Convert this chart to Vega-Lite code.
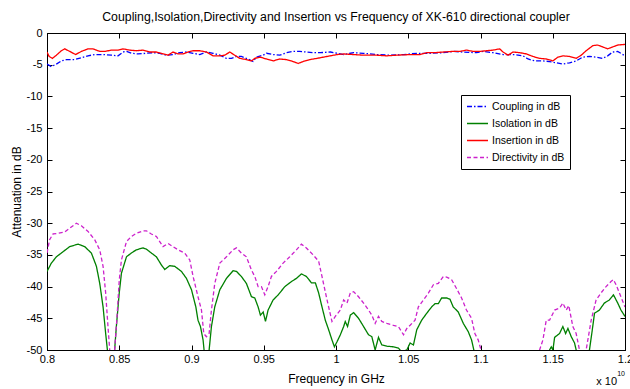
{
  "$schema": "https://vega.github.io/schema/vega-lite/v6.json",
  "autosize": "none",
  "width": 578,
  "height": 317,
  "padding": {"left": 47, "top": 33, "right": 5, "bottom": 39},
  "background": "white",
  "config": {
    "font": "Liberation Sans",
    "view": {"stroke": "black", "strokeWidth": 1},
    "axis": {"grid": false, "domainColor": "black", "tickColor": "black", "labelColor": "black", "titleColor": "black", "labelFont": "Liberation Sans", "titleFont": "Liberation Sans", "labelFontSize": 11, "titleFontSize": 12, "titleFontWeight": "normal", "tickSize": -5},
    "legend": {"orient": "none", "legendX": 414, "legendY": 62, "strokeColor": "black", "fillColor": "white", "padding": 5, "symbolType": "stroke", "symbolSize": 440, "symbolStrokeWidth": 1.5, "labelFontSize": 10.5, "labelFont": "Liberation Sans", "labelColor": "black", "rowPadding": 4, "labelOffset": 3, "clipHeight": 13}
  },
  "title": {"text": "Coupling,Isolation,Directivity and Insertion vs Frequency of XK-610 directional coupler", "fontSize": 12.3, "fontWeight": "normal", "font": "Liberation Sans", "color": "black", "offset": 4, "anchor": "middle"},
  "data": {"values": [
    {"s":"Coupling in dB","f":0.8,"v":-4.9},{"s":"Coupling in dB","f":0.803,"v":-5.3},{"s":"Coupling in dB","f":0.8065,"v":-4.9},{"s":"Coupling in dB","f":0.8099,"v":-4.4},{"s":"Coupling in dB","f":0.8134,"v":-4.2},{"s":"Coupling in dB","f":0.8192,"v":-4.2},{"s":"Coupling in dB","f":0.8238,"v":-3.9},{"s":"Coupling in dB","f":0.8284,"v":-3.6},{"s":"Coupling in dB","f":0.833,"v":-3.4},{"s":"Coupling in dB","f":0.8388,"v":-3.4},{"s":"Coupling in dB","f":0.8446,"v":-3.5},{"s":"Coupling in dB","f":0.8492,"v":-3.6},{"s":"Coupling in dB","f":0.8526,"v":-3.0},{"s":"Coupling in dB","f":0.855,"v":-2.9},{"s":"Coupling in dB","f":0.8584,"v":-3.2},{"s":"Coupling in dB","f":0.863,"v":-3.3},{"s":"Coupling in dB","f":0.8688,"v":-3.2},{"s":"Coupling in dB","f":0.8734,"v":-3.1},{"s":"Coupling in dB","f":0.878,"v":-3.2},{"s":"Coupling in dB","f":0.8826,"v":-3.5},{"s":"Coupling in dB","f":0.8872,"v":-3.4},{"s":"Coupling in dB","f":0.8919,"v":-3.1},{"s":"Coupling in dB","f":0.8965,"v":-3.0},{"s":"Coupling in dB","f":0.9011,"v":-3.2},{"s":"Coupling in dB","f":0.9057,"v":-3.4},{"s":"Coupling in dB","f":0.9103,"v":-3.0},{"s":"Coupling in dB","f":0.9149,"v":-3.2},{"s":"Coupling in dB","f":0.9196,"v":-3.5},{"s":"Coupling in dB","f":0.9242,"v":-4.0},{"s":"Coupling in dB","f":0.9276,"v":-4.0},{"s":"Coupling in dB","f":0.9311,"v":-3.7},{"s":"Coupling in dB","f":0.9345,"v":-3.7},{"s":"Coupling in dB","f":0.9391,"v":-4.1},{"s":"Coupling in dB","f":0.9426,"v":-4.5},{"s":"Coupling in dB","f":0.9449,"v":-3.8},{"s":"Coupling in dB","f":0.9496,"v":-3.5},{"s":"Coupling in dB","f":0.9519,"v":-3.2},{"s":"Coupling in dB","f":0.9565,"v":-3.4},{"s":"Coupling in dB","f":0.9611,"v":-3.5},{"s":"Coupling in dB","f":0.9657,"v":-3.1},{"s":"Coupling in dB","f":0.9703,"v":-2.9},{"s":"Coupling in dB","f":0.9749,"v":-2.9},{"s":"Coupling in dB","f":0.9795,"v":-3.0},{"s":"Coupling in dB","f":0.9842,"v":-3.1},{"s":"Coupling in dB","f":0.9892,"v":-3.1},{"s":"Coupling in dB","f":0.9961,"v":-3.0},{"s":"Coupling in dB","f":1.0007,"v":-3.2},{"s":"Coupling in dB","f":1.0053,"v":-3.4},{"s":"Coupling in dB","f":1.0122,"v":-3.1},{"s":"Coupling in dB","f":1.0191,"v":-3.2},{"s":"Coupling in dB","f":1.0283,"v":-3.4},{"s":"Coupling in dB","f":1.0375,"v":-3.5},{"s":"Coupling in dB","f":1.0467,"v":-3.4},{"s":"Coupling in dB","f":1.0559,"v":-3.2},{"s":"Coupling in dB","f":1.0651,"v":-3.2},{"s":"Coupling in dB","f":1.0743,"v":-3.1},{"s":"Coupling in dB","f":1.0811,"v":-2.9},{"s":"Coupling in dB","f":1.0878,"v":-3.0},{"s":"Coupling in dB","f":1.0972,"v":-3.1},{"s":"Coupling in dB","f":1.1018,"v":-2.9},{"s":"Coupling in dB","f":1.1087,"v":-3.1},{"s":"Coupling in dB","f":1.1156,"v":-3.4},{"s":"Coupling in dB","f":1.1225,"v":-3.4},{"s":"Coupling in dB","f":1.1294,"v":-3.6},{"s":"Coupling in dB","f":1.1329,"v":-4.1},{"s":"Coupling in dB","f":1.1375,"v":-4.4},{"s":"Coupling in dB","f":1.1432,"v":-4.4},{"s":"Coupling in dB","f":1.1478,"v":-4.5},{"s":"Coupling in dB","f":1.1524,"v":-4.7},{"s":"Coupling in dB","f":1.157,"v":-4.9},{"s":"Coupling in dB","f":1.1616,"v":-4.7},{"s":"Coupling in dB","f":1.1662,"v":-4.4},{"s":"Coupling in dB","f":1.1708,"v":-3.8},{"s":"Coupling in dB","f":1.1754,"v":-3.7},{"s":"Coupling in dB","f":1.18,"v":-3.8},{"s":"Coupling in dB","f":1.1846,"v":-4.0},{"s":"Coupling in dB","f":1.188,"v":-3.6},{"s":"Coupling in dB","f":1.1915,"v":-3.0},{"s":"Coupling in dB","f":1.1949,"v":-2.9},{"s":"Coupling in dB","f":1.2,"v":-3.6},

    {"s":"Isolation  in dB","f":0.8,"v":-37.6},{"s":"Isolation  in dB","f":0.803,"v":-36.3},{"s":"Isolation  in dB","f":0.8065,"v":-35.3},{"s":"Isolation  in dB","f":0.8111,"v":-34.5},{"s":"Isolation  in dB","f":0.8157,"v":-33.7},{"s":"Isolation  in dB","f":0.8215,"v":-33.3},{"s":"Isolation  in dB","f":0.8261,"v":-33.7},{"s":"Isolation  in dB","f":0.8307,"v":-34.7},{"s":"Isolation  in dB","f":0.8342,"v":-36.8},{"s":"Isolation  in dB","f":0.8365,"v":-39.5},{"s":"Isolation  in dB","f":0.8388,"v":-43.2},{"s":"Isolation  in dB","f":0.8406,"v":-47.4},{"s":"Isolation  in dB","f":0.8418,"v":-50},{"s":"Isolation  in dB","f":0.8445,"v":-58},{"s":"Isolation  in dB","f":0.8468,"v":-50},{"s":"Isolation  in dB","f":0.848,"v":-46.3},{"s":"Isolation  in dB","f":0.85,"v":-41},{"s":"Isolation  in dB","f":0.8515,"v":-37.9},{"s":"Isolation  in dB","f":0.855,"v":-35.3},{"s":"Isolation  in dB","f":0.8584,"v":-34.7},{"s":"Isolation  in dB","f":0.8618,"v":-34.2},{"s":"Isolation  in dB","f":0.8665,"v":-33.9},{"s":"Isolation  in dB","f":0.8688,"v":-34.1},{"s":"Isolation  in dB","f":0.8722,"v":-34.7},{"s":"Isolation  in dB","f":0.8757,"v":-35.3},{"s":"Isolation  in dB","f":0.8792,"v":-36.6},{"s":"Isolation  in dB","f":0.8815,"v":-37.3},{"s":"Isolation  in dB","f":0.8849,"v":-36.7},{"s":"Isolation  in dB","f":0.8884,"v":-36.8},{"s":"Isolation  in dB","f":0.893,"v":-37.6},{"s":"Isolation  in dB","f":0.8965,"v":-38.7},{"s":"Isolation  in dB","f":0.9,"v":-40.5},{"s":"Isolation  in dB","f":0.903,"v":-43.2},{"s":"Isolation  in dB","f":0.9045,"v":-45.3},{"s":"Isolation  in dB","f":0.9062,"v":-46.3},{"s":"Isolation  in dB","f":0.908,"v":-48.4},{"s":"Isolation  in dB","f":0.9087,"v":-50},{"s":"Isolation  in dB","f":0.9105,"v":-55},{"s":"Isolation  in dB","f":0.9122,"v":-50},{"s":"Isolation  in dB","f":0.9138,"v":-46.3},{"s":"Isolation  in dB","f":0.9161,"v":-43.2},{"s":"Isolation  in dB","f":0.9196,"v":-40.5},{"s":"Isolation  in dB","f":0.9242,"v":-38.7},{"s":"Isolation  in dB","f":0.9288,"v":-37.5},{"s":"Isolation  in dB","f":0.9311,"v":-37.6},{"s":"Isolation  in dB","f":0.9345,"v":-38.4},{"s":"Isolation  in dB","f":0.938,"v":-39.5},{"s":"Isolation  in dB","f":0.9415,"v":-41.6},{"s":"Isolation  in dB","f":0.9438,"v":-41.8},{"s":"Isolation  in dB","f":0.9461,"v":-43.2},{"s":"Isolation  in dB","f":0.9477,"v":-44.5},{"s":"Isolation  in dB","f":0.9496,"v":-44},{"s":"Isolation  in dB","f":0.9512,"v":-45.5},{"s":"Isolation  in dB","f":0.953,"v":-43.7},{"s":"Isolation  in dB","f":0.9565,"v":-42.1},{"s":"Isolation  in dB","f":0.96,"v":-41.3},{"s":"Isolation  in dB","f":0.9646,"v":-40},{"s":"Isolation  in dB","f":0.9692,"v":-39.2},{"s":"Isolation  in dB","f":0.9726,"v":-38.7},{"s":"Isolation  in dB","f":0.9761,"v":-38},{"s":"Isolation  in dB","f":0.9795,"v":-38.4},{"s":"Isolation  in dB","f":0.983,"v":-39.4},{"s":"Isolation  in dB","f":0.9857,"v":-39.4},{"s":"Isolation  in dB","f":0.988,"v":-41},{"s":"Isolation  in dB","f":0.9903,"v":-43.2},{"s":"Isolation  in dB","f":0.9926,"v":-45.3},{"s":"Isolation  in dB","f":0.9949,"v":-46.8},{"s":"Isolation  in dB","f":0.9972,"v":-48.4},{"s":"Isolation  in dB","f":0.9989,"v":-49.5},{"s":"Isolation  in dB","f":1.0007,"v":-48.7},{"s":"Isolation  in dB","f":1.003,"v":-47.6},{"s":"Isolation  in dB","f":1.0053,"v":-46.3},{"s":"Isolation  in dB","f":1.0064,"v":-45.5},{"s":"Isolation  in dB","f":1.008,"v":-46.3},{"s":"Isolation  in dB","f":1.0099,"v":-44.5},{"s":"Isolation  in dB","f":1.0122,"v":-44.1},{"s":"Isolation  in dB","f":1.0156,"v":-45},{"s":"Isolation  in dB","f":1.0191,"v":-46.3},{"s":"Isolation  in dB","f":1.0225,"v":-47.6},{"s":"Isolation  in dB","f":1.0248,"v":-47.9},{"s":"Isolation  in dB","f":1.0271,"v":-50},{"s":"Isolation  in dB","f":1.0294,"v":-48},{"s":"Isolation  in dB","f":1.0317,"v":-49.2},{"s":"Isolation  in dB","f":1.0352,"v":-49.4},{"s":"Isolation  in dB","f":1.0398,"v":-49.5},{"s":"Isolation  in dB","f":1.0432,"v":-49.7},{"s":"Isolation  in dB","f":1.0455,"v":-50.3},{"s":"Isolation  in dB","f":1.049,"v":-50},{"s":"Isolation  in dB","f":1.0513,"v":-48.9},{"s":"Isolation  in dB","f":1.0536,"v":-49.2},{"s":"Isolation  in dB","f":1.0559,"v":-46.8},{"s":"Isolation  in dB","f":1.0593,"v":-45.3},{"s":"Isolation  in dB","f":1.0628,"v":-44.2},{"s":"Isolation  in dB","f":1.0662,"v":-43.2},{"s":"Isolation  in dB","f":1.0685,"v":-42.7},{"s":"Isolation  in dB","f":1.0708,"v":-42.7},{"s":"Isolation  in dB","f":1.0731,"v":-41.8},{"s":"Isolation  in dB","f":1.0766,"v":-41.8},{"s":"Isolation  in dB","f":1.0789,"v":-42},{"s":"Isolation  in dB","f":1.0811,"v":-43.2},{"s":"Isolation  in dB","f":1.0846,"v":-44},{"s":"Isolation  in dB","f":1.0881,"v":-45.8},{"s":"Isolation  in dB","f":1.0915,"v":-47.1},{"s":"Isolation  in dB","f":1.0938,"v":-48.4},{"s":"Isolation  in dB","f":1.0954,"v":-50},{"s":"Isolation  in dB","f":1.1,"v":-56},{"s":"Isolation  in dB","f":1.12,"v":-60},{"s":"Isolation  in dB","f":1.14,"v":-56},{"s":"Isolation  in dB","f":1.1478,"v":-50},{"s":"Isolation  in dB","f":1.149,"v":-49.5},{"s":"Isolation  in dB","f":1.1501,"v":-50},{"s":"Isolation  in dB","f":1.1513,"v":-48},{"s":"Isolation  in dB","f":1.1547,"v":-47.4},{"s":"Isolation  in dB","f":1.157,"v":-46.3},{"s":"Isolation  in dB","f":1.1589,"v":-47.4},{"s":"Isolation  in dB","f":1.1605,"v":-46.6},{"s":"Isolation  in dB","f":1.1628,"v":-47.9},{"s":"Isolation  in dB","f":1.1651,"v":-48.9},{"s":"Isolation  in dB","f":1.1662,"v":-50},{"s":"Isolation  in dB","f":1.17,"v":-54},{"s":"Isolation  in dB","f":1.1754,"v":-50},{"s":"Isolation  in dB","f":1.1772,"v":-47.1},{"s":"Isolation  in dB","f":1.1789,"v":-44.2},{"s":"Isolation  in dB","f":1.1823,"v":-43.7},{"s":"Isolation  in dB","f":1.1857,"v":-42.6},{"s":"Isolation  in dB","f":1.1892,"v":-42.1},{"s":"Isolation  in dB","f":1.192,"v":-41.3},{"s":"Isolation  in dB","f":1.195,"v":-42.6},{"s":"Isolation  in dB","f":1.1972,"v":-43.7},{"s":"Isolation  in dB","f":1.2,"v":-44.7},

    {"s":"Insertion  in dB","f":0.8,"v":-3.0},{"s":"Insertion  in dB","f":0.8015,"v":-3.7},{"s":"Insertion  in dB","f":0.8037,"v":-4.0},{"s":"Insertion  in dB","f":0.8065,"v":-3.5},{"s":"Insertion  in dB","f":0.8099,"v":-2.8},{"s":"Insertion  in dB","f":0.8122,"v":-2.5},{"s":"Insertion  in dB","f":0.8157,"v":-2.9},{"s":"Insertion  in dB","f":0.8198,"v":-3.4},{"s":"Insertion  in dB","f":0.8238,"v":-2.9},{"s":"Insertion  in dB","f":0.8284,"v":-2.5},{"s":"Insertion  in dB","f":0.8318,"v":-2.5},{"s":"Insertion  in dB","f":0.8365,"v":-2.9},{"s":"Insertion  in dB","f":0.84,"v":-2.9},{"s":"Insertion  in dB","f":0.8446,"v":-2.7},{"s":"Insertion  in dB","f":0.8492,"v":-2.7},{"s":"Insertion  in dB","f":0.8526,"v":-2.5},{"s":"Insertion  in dB","f":0.8572,"v":-2.7},{"s":"Insertion  in dB","f":0.8618,"v":-2.8},{"s":"Insertion  in dB","f":0.8665,"v":-2.7},{"s":"Insertion  in dB","f":0.8711,"v":-3.0},{"s":"Insertion  in dB","f":0.8757,"v":-3.0},{"s":"Insertion  in dB","f":0.8803,"v":-3.3},{"s":"Insertion  in dB","f":0.8838,"v":-3.5},{"s":"Insertion  in dB","f":0.8872,"v":-3.0},{"s":"Insertion  in dB","f":0.8907,"v":-3.3},{"s":"Insertion  in dB","f":0.8942,"v":-3.3},{"s":"Insertion  in dB","f":0.8976,"v":-3.0},{"s":"Insertion  in dB","f":0.9011,"v":-2.8},{"s":"Insertion  in dB","f":0.9057,"v":-2.8},{"s":"Insertion  in dB","f":0.9103,"v":-3.0},{"s":"Insertion  in dB","f":0.9149,"v":-3.6},{"s":"Insertion  in dB","f":0.9196,"v":-3.6},{"s":"Insertion  in dB","f":0.923,"v":-3.5},{"s":"Insertion  in dB","f":0.9265,"v":-3.0},{"s":"Insertion  in dB","f":0.9299,"v":-3.5},{"s":"Insertion  in dB","f":0.9334,"v":-4.0},{"s":"Insertion  in dB","f":0.938,"v":-4.2},{"s":"Insertion  in dB","f":0.9415,"v":-4.4},{"s":"Insertion  in dB","f":0.9438,"v":-4.0},{"s":"Insertion  in dB","f":0.9473,"v":-3.8},{"s":"Insertion  in dB","f":0.9519,"v":-4.1},{"s":"Insertion  in dB","f":0.9565,"v":-4.4},{"s":"Insertion  in dB","f":0.9611,"v":-4.1},{"s":"Insertion  in dB","f":0.9657,"v":-4.2},{"s":"Insertion  in dB","f":0.9703,"v":-4.5},{"s":"Insertion  in dB","f":0.9738,"v":-4.8},{"s":"Insertion  in dB","f":0.9772,"v":-4.5},{"s":"Insertion  in dB","f":0.9818,"v":-4.2},{"s":"Insertion  in dB","f":0.9869,"v":-4.0},{"s":"Insertion  in dB","f":0.9915,"v":-3.8},{"s":"Insertion  in dB","f":0.9961,"v":-3.6},{"s":"Insertion  in dB","f":1.0007,"v":-3.4},{"s":"Insertion  in dB","f":1.0053,"v":-3.3},{"s":"Insertion  in dB","f":1.0122,"v":-3.4},{"s":"Insertion  in dB","f":1.0191,"v":-3.5},{"s":"Insertion  in dB","f":1.0283,"v":-3.5},{"s":"Insertion  in dB","f":1.0352,"v":-3.6},{"s":"Insertion  in dB","f":1.042,"v":-3.5},{"s":"Insertion  in dB","f":1.0513,"v":-3.4},{"s":"Insertion  in dB","f":1.0582,"v":-3.4},{"s":"Insertion  in dB","f":1.0628,"v":-3.1},{"s":"Insertion  in dB","f":1.0685,"v":-3.1},{"s":"Insertion  in dB","f":1.0743,"v":-3.0},{"s":"Insertion  in dB","f":1.0811,"v":-2.9},{"s":"Insertion  in dB","f":1.0857,"v":-2.9},{"s":"Insertion  in dB","f":1.0903,"v":-2.7},{"s":"Insertion  in dB","f":1.0949,"v":-2.9},{"s":"Insertion  in dB","f":1.0995,"v":-2.9},{"s":"Insertion  in dB","f":1.1041,"v":-2.8},{"s":"Insertion  in dB","f":1.1087,"v":-2.7},{"s":"Insertion  in dB","f":1.1133,"v":-2.5},{"s":"Insertion  in dB","f":1.1156,"v":-3.0},{"s":"Insertion  in dB","f":1.1191,"v":-3.5},{"s":"Insertion  in dB","f":1.1225,"v":-3.0},{"s":"Insertion  in dB","f":1.1271,"v":-3.1},{"s":"Insertion  in dB","f":1.1317,"v":-3.3},{"s":"Insertion  in dB","f":1.1363,"v":-3.7},{"s":"Insertion  in dB","f":1.1409,"v":-4.0},{"s":"Insertion  in dB","f":1.1455,"v":-4.1},{"s":"Insertion  in dB","f":1.1501,"v":-4.4},{"s":"Insertion  in dB","f":1.1536,"v":-3.8},{"s":"Insertion  in dB","f":1.157,"v":-3.6},{"s":"Insertion  in dB","f":1.1616,"v":-3.7},{"s":"Insertion  in dB","f":1.1662,"v":-4.0},{"s":"Insertion  in dB","f":1.1697,"v":-3.5},{"s":"Insertion  in dB","f":1.1731,"v":-2.8},{"s":"Insertion  in dB","f":1.1777,"v":-2.0},{"s":"Insertion  in dB","f":1.1811,"v":-1.9},{"s":"Insertion  in dB","f":1.1846,"v":-2.2},{"s":"Insertion  in dB","f":1.188,"v":-2.5},{"s":"Insertion  in dB","f":1.1915,"v":-2.2},{"s":"Insertion  in dB","f":1.1949,"v":-1.9},{"s":"Insertion  in dB","f":1.2,"v":-1.8},

    {"s":"Directivity in dB","f":0.8,"v":-34.7},{"s":"Directivity in dB","f":0.8018,"v":-32.6},{"s":"Directivity in dB","f":0.8042,"v":-31.7},{"s":"Directivity in dB","f":0.8076,"v":-31.6},{"s":"Directivity in dB","f":0.8122,"v":-31.4},{"s":"Directivity in dB","f":0.8157,"v":-30.8},{"s":"Directivity in dB","f":0.8203,"v":-30.0},{"s":"Directivity in dB","f":0.8238,"v":-30.4},{"s":"Directivity in dB","f":0.8284,"v":-31.3},{"s":"Directivity in dB","f":0.833,"v":-32.6},{"s":"Directivity in dB","f":0.8365,"v":-34.2},{"s":"Directivity in dB","f":0.8388,"v":-36.8},{"s":"Directivity in dB","f":0.8406,"v":-41},{"s":"Directivity in dB","f":0.8422,"v":-46.3},{"s":"Directivity in dB","f":0.8434,"v":-50},{"s":"Directivity in dB","f":0.845,"v":-56},{"s":"Directivity in dB","f":0.8468,"v":-50},{"s":"Directivity in dB","f":0.8485,"v":-44.7},{"s":"Directivity in dB","f":0.85,"v":-39},{"s":"Directivity in dB","f":0.8515,"v":-35.8},{"s":"Directivity in dB","f":0.855,"v":-32.9},{"s":"Directivity in dB","f":0.8584,"v":-32.1},{"s":"Directivity in dB","f":0.8618,"v":-31.6},{"s":"Directivity in dB","f":0.8665,"v":-31.2},{"s":"Directivity in dB","f":0.8688,"v":-31.2},{"s":"Directivity in dB","f":0.8722,"v":-31.7},{"s":"Directivity in dB","f":0.8757,"v":-32.1},{"s":"Directivity in dB","f":0.8803,"v":-33.7},{"s":"Directivity in dB","f":0.8838,"v":-33.2},{"s":"Directivity in dB","f":0.8872,"v":-33.7},{"s":"Directivity in dB","f":0.8907,"v":-34.2},{"s":"Directivity in dB","f":0.8953,"v":-34.7},{"s":"Directivity in dB","f":0.8988,"v":-35.8},{"s":"Directivity in dB","f":0.9011,"v":-38.4},{"s":"Directivity in dB","f":0.9045,"v":-41.6},{"s":"Directivity in dB","f":0.9069,"v":-43.7},{"s":"Directivity in dB","f":0.9085,"v":-47.4},{"s":"Directivity in dB","f":0.9103,"v":-47.9},{"s":"Directivity in dB","f":0.9122,"v":-47.4},{"s":"Directivity in dB","f":0.9138,"v":-43.7},{"s":"Directivity in dB","f":0.9161,"v":-39.5},{"s":"Directivity in dB","f":0.9196,"v":-36.3},{"s":"Directivity in dB","f":0.9242,"v":-35.3},{"s":"Directivity in dB","f":0.9288,"v":-34.2},{"s":"Directivity in dB","f":0.9311,"v":-33.9},{"s":"Directivity in dB","f":0.9345,"v":-34.7},{"s":"Directivity in dB","f":0.938,"v":-35.3},{"s":"Directivity in dB","f":0.9415,"v":-37.4},{"s":"Directivity in dB","f":0.9438,"v":-38.4},{"s":"Directivity in dB","f":0.9461,"v":-40},{"s":"Directivity in dB","f":0.9484,"v":-40},{"s":"Directivity in dB","f":0.9507,"v":-41.3},{"s":"Directivity in dB","f":0.953,"v":-40},{"s":"Directivity in dB","f":0.9553,"v":-38.4},{"s":"Directivity in dB","f":0.9588,"v":-37.6},{"s":"Directivity in dB","f":0.9634,"v":-36.3},{"s":"Directivity in dB","f":0.968,"v":-35.3},{"s":"Directivity in dB","f":0.9726,"v":-34.2},{"s":"Directivity in dB","f":0.9761,"v":-33.3},{"s":"Directivity in dB","f":0.9795,"v":-33.9},{"s":"Directivity in dB","f":0.9842,"v":-35.0},{"s":"Directivity in dB","f":0.988,"v":-36},{"s":"Directivity in dB","f":0.9903,"v":-38.4},{"s":"Directivity in dB","f":0.9938,"v":-42.1},{"s":"Directivity in dB","f":0.9972,"v":-45.5},{"s":"Directivity in dB","f":0.9995,"v":-44.7},{"s":"Directivity in dB","f":1.003,"v":-43.7},{"s":"Directivity in dB","f":1.0053,"v":-42.1},{"s":"Directivity in dB","f":1.0076,"v":-42.6},{"s":"Directivity in dB","f":1.0099,"v":-41},{"s":"Directivity in dB","f":1.0122,"v":-40.8},{"s":"Directivity in dB","f":1.0156,"v":-41.6},{"s":"Directivity in dB","f":1.0191,"v":-42.6},{"s":"Directivity in dB","f":1.0225,"v":-43.7},{"s":"Directivity in dB","f":1.0248,"v":-44.5},{"s":"Directivity in dB","f":1.0271,"v":-45.8},{"s":"Directivity in dB","f":1.0294,"v":-44.7},{"s":"Directivity in dB","f":1.0317,"v":-45.5},{"s":"Directivity in dB","f":1.0352,"v":-45.8},{"s":"Directivity in dB","f":1.0398,"v":-46.1},{"s":"Directivity in dB","f":1.0432,"v":-46.3},{"s":"Directivity in dB","f":1.0467,"v":-47.6},{"s":"Directivity in dB","f":1.049,"v":-46.6},{"s":"Directivity in dB","f":1.0513,"v":-46.1},{"s":"Directivity in dB","f":1.0547,"v":-45.3},{"s":"Directivity in dB","f":1.057,"v":-43.2},{"s":"Directivity in dB","f":1.0605,"v":-42.1},{"s":"Directivity in dB","f":1.064,"v":-41},{"s":"Directivity in dB","f":1.0674,"v":-39.7},{"s":"Directivity in dB","f":1.0708,"v":-39.5},{"s":"Directivity in dB","f":1.0743,"v":-38.4},{"s":"Directivity in dB","f":1.0766,"v":-38.5},{"s":"Directivity in dB","f":1.08,"v":-38.9},{"s":"Directivity in dB","f":1.0834,"v":-40.3},{"s":"Directivity in dB","f":1.0869,"v":-41.8},{"s":"Directivity in dB","f":1.0903,"v":-43.7},{"s":"Directivity in dB","f":1.0938,"v":-45},{"s":"Directivity in dB","f":1.0961,"v":-47.4},{"s":"Directivity in dB","f":1.0984,"v":-48.4},{"s":"Directivity in dB","f":1.1,"v":-49.7},{"s":"Directivity in dB","f":1.102,"v":-52},{"s":"Directivity in dB","f":1.12,"v":-58},{"s":"Directivity in dB","f":1.138,"v":-52},{"s":"Directivity in dB","f":1.1409,"v":-50},{"s":"Directivity in dB","f":1.1432,"v":-48.4},{"s":"Directivity in dB","f":1.1455,"v":-45.3},{"s":"Directivity in dB","f":1.1478,"v":-45.3},{"s":"Directivity in dB","f":1.1513,"v":-43.7},{"s":"Directivity in dB","f":1.1547,"v":-43.4},{"s":"Directivity in dB","f":1.157,"v":-42.6},{"s":"Directivity in dB","f":1.1593,"v":-43.7},{"s":"Directivity in dB","f":1.1611,"v":-43},{"s":"Directivity in dB","f":1.1639,"v":-46.3},{"s":"Directivity in dB","f":1.1662,"v":-47.4},{"s":"Directivity in dB","f":1.1685,"v":-50},{"s":"Directivity in dB","f":1.171,"v":-53},{"s":"Directivity in dB","f":1.1731,"v":-50},{"s":"Directivity in dB","f":1.1766,"v":-45.3},{"s":"Directivity in dB","f":1.18,"v":-42.1},{"s":"Directivity in dB","f":1.1834,"v":-41},{"s":"Directivity in dB","f":1.1869,"v":-40},{"s":"Directivity in dB","f":1.1903,"v":-39.2},{"s":"Directivity in dB","f":1.192,"v":-38.9},{"s":"Directivity in dB","f":1.1938,"v":-39.7},{"s":"Directivity in dB","f":1.1961,"v":-41},{"s":"Directivity in dB","f":1.2,"v":-43.2}
  ]},
  "resolve": {"axis": {"x": "independent", "y": "independent"}},
  "layer": [
    {
      "mark": {"type": "line", "clip": true, "strokeWidth": 1.3},
      "encoding": {
        "x": {"field": "f", "type": "quantitative", "scale": {"domain": [0.8, 1.2], "nice": false, "zero": false},
              "axis": {"orient": "bottom", "values": [0.8, 0.85, 0.9, 0.95, 1, 1.05, 1.1, 1.15, 1.2], "labelExpr": "'' + datum.value", "title": "Frequency in GHz", "titlePadding": 9, "labelPadding": 8, "labelFlush": false}},
        "y": {"field": "v", "type": "quantitative", "scale": {"domain": [-50, 0], "nice": false, "zero": false},
              "axis": {"orient": "left", "values": [-50, -45, -40, -35, -30, -25, -20, -15, -10, -5, 0], "labelExpr": "'' + datum.value", "title": "Attenuation in dB", "titlePadding": 3, "labelPadding": 10}},
        "color": {"field": "s", "type": "nominal", "title": null,
                  "scale": {"domain": ["Coupling in dB", "Isolation  in dB", "Insertion  in dB", "Directivity in dB"], "range": ["#0000ff", "#008000", "#ff0000", "#cc22cc"]}},
        "strokeDash": {"field": "s", "type": "nominal", "title": null,
                  "scale": {"domain": ["Coupling in dB", "Isolation  in dB", "Insertion  in dB", "Directivity in dB"], "range": [[5, 2, 1.5, 2], [1, 0], [1, 0], [4, 2.5]]}}
      }
    },
    {
      "mark": {"type": "line", "strokeOpacity": 0},
      "encoding": {
        "x": {"field": "f", "type": "quantitative", "axis": {"orient": "top", "values": [0.8, 0.85, 0.9, 0.95, 1, 1.05, 1.1, 1.15, 1.2], "labels": false, "title": null}},
        "y": {"field": "v", "type": "quantitative", "axis": {"orient": "right", "values": [-50, -45, -40, -35, -30, -25, -20, -15, -10, -5, 0], "labels": false, "title": null}}
      }
    },
    {
      "data": {"values": [{"t": "x 10"}]},
      "mark": {"type": "text", "align": "right", "baseline": "middle", "dx": -8, "dy": 32, "fontSize": 11, "font": "Liberation Sans", "color": "black"},
      "encoding": {
        "x": {"datum": 1.2, "type": "quantitative", "axis": null},
        "y": {"datum": -50, "type": "quantitative", "axis": null},
        "text": {"field": "t"}
      }
    },
    {
      "data": {"values": [{"t": "10"}]},
      "mark": {"type": "text", "align": "right", "baseline": "middle", "dx": 0, "dy": 24, "fontSize": 7, "font": "Liberation Sans", "color": "black"},
      "encoding": {
        "x": {"datum": 1.2, "type": "quantitative", "axis": null},
        "y": {"datum": -50, "type": "quantitative", "axis": null},
        "text": {"field": "t"}
      }
    }
  ]
}
